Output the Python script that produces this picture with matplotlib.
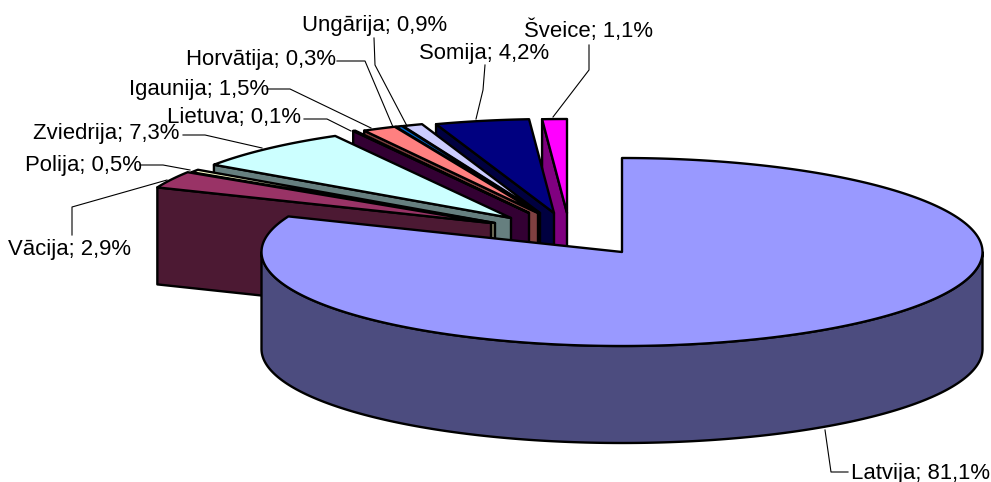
import numpy as np
import matplotlib
matplotlib.use("Agg")
import matplotlib.pyplot as plt
from matplotlib.patches import Polygon

plt.rcParams["font.family"] = ["Liberation Sans", "DejaVu Sans"]

# dati
valstis = ["Latvija", "Vācija", "Polija", "Zviedrija", "Lietuva", "Igaunija",
           "Horvātija", "Ungārija", "Somija", "Šveice"]
daljas = [81.1, 2.9, 0.5, 7.3, 0.1, 1.5, 0.3, 0.9, 4.2, 1.1]
krasas = ["#9999FF", "#993366", "#FFFFCC", "#CCFFFF", "#660066", "#FF8080",
          "#0066CC", "#CCCCFF", "#000080", "#FF00FF"]
sanu_krasas = ["#4C4C7F", "#4C1933", "#7F7F66", "#667F7F", "#330033", "#7F4040",
               "#003366", "#666680", "#000040", "#800080"]

# cik tālu katrs sektors izvilkts no centra (px)
izvilkums_x = [0, -131, -127, -111, -93, -84, -83, -82, -68, -55]
izvilkums_y = [0, -29, -29, -34, -39, -39, -39, -39, -39, -39]

# centrs un elipse
cx, cy = 622, 252
rx, ry = 360.5, 94
dzilums = 97

# uzraksti: x, y (kreisā mala, vidus), līnijas punkti
uzraksti_x = [851, 8, 25, 33, 167, 129, 186, 302, 419, 524]
uzraksti_y = [472, 249, 165, 133, 117, 88, 59, 24, 52, 30]
linijas = [
    [(825, 430), (831, 472), (848, 472)],
    [(72, 235), (72, 207), (167, 180)],
    [(140, 165), (163, 165), (190, 170)],
    [(183, 135), (205, 135), (262, 148)],
    [(304, 119), (327, 119), (351, 131)],
    [(267, 89), (290, 89), (371, 128)],
    [(337, 61), (365, 61), (393, 127)],
    [(374, 38), (375, 65), (407, 126)],
    [(485, 65), (483, 90), (476, 119)],
    [(589, 45), (589, 70), (553, 117)],
]

fig = plt.figure(figsize=(9.91, 4.82), dpi=100)
ax = fig.add_axes([0, 0, 1, 1])
ax.set_xlim(0, 991)
ax.set_ylim(482, 0)
ax.axis("off")


def punkts(a, x0, y0):
    # leņķis pulksteņa virzienā no augšas
    r = np.radians(a)
    return x0 + rx * np.sin(r), y0 - ry * np.cos(r)


robezas = np.cumsum([0] + daljas) / sum(daljas) * 360

# zīmē no aizmugures uz priekšu, Latvija pēdējā
for i in range(len(daljas) - 1, -1, -1):
    x0 = cx + izvilkums_x[i]
    y0 = cy + izvilkums_y[i]
    a1, a2 = robezas[i], robezas[i + 1]
    leni = np.linspace(a1, a2, max(int(a2 - a1) * 2, 4))
    ax_x, ax_y = punkts(leni, x0, y0)

    if i == 0:
        # ārējā mala redzama tikai priekšā
        pr = np.linspace(90, 270, 200)
        px, py = punkts(pr, x0, y0)
        sx = np.concatenate([px, px[::-1]])
        sy = np.concatenate([py, (py + dzilums)[::-1]])
    else:
        # griezuma plakne zem kreisās malas
        lx, ly = punkts(a1, x0, y0)
        sx = [lx, x0, x0, lx]
        sy = [ly, y0, y0 + dzilums, ly + dzilums]
    ax.add_patch(Polygon(np.column_stack([sx, sy]), closed=True, fc=sanu_krasas[i],
                         ec="black", lw=1.7, joinstyle="round"))

    vx = np.concatenate([[x0], ax_x])
    vy = np.concatenate([[y0], ax_y])
    ax.add_patch(Polygon(np.column_stack([vx, vy]), closed=True, fc=krasas[i],
                         ec="black", lw=1.7, joinstyle="round"))

for i, nosaukums in enumerate(valstis):
    teksts = f"{nosaukums}; {daljas[i]:.1f}%".replace(".", ",")
    ax.text(uzraksti_x[i], uzraksti_y[i] + 1, teksts, fontsize=15.9, va="center", ha="left", color="black")
    lx = [p[0] for p in linijas[i]]
    ly = [p[1] for p in linijas[i]]
    ax.plot(lx, ly, color="black", lw=0.8)

fig.savefig("out.png", dpi=100)
